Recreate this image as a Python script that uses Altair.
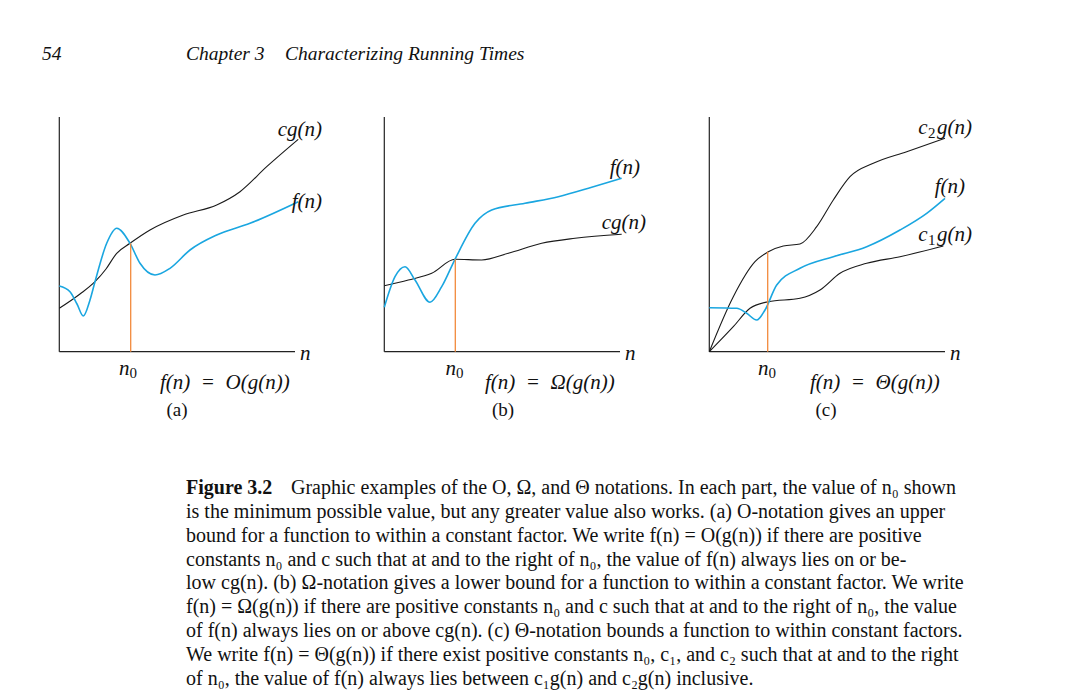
import altair as alt
import pandas as pd

W, H = 1067, 694
SERIF = "Liberation Serif"
BLUE = "#1aa6e0"
ORANGE = "#f28a3c"
SP = "\u2002"  # en space (not collapsed by SVG)

# ---------------- panel (a) ----------------
a_cg_x = [59.3, 80, 95, 106, 116.7, 130, 150, 183.3, 216.7, 240, 266.7, 298.3]
a_cg_y = [308.3, 294, 281.7, 269, 253.3, 243.3, 230, 215, 205, 191.7, 166.7, 139.3]
a_f_x = [59.3, 70, 77, 83.3, 90, 95, 106.7, 116.7, 130, 140, 155, 170, 190, 216.7, 250, 298.3]
a_f_y = [286, 291.7, 304, 316, 300, 281.7, 243.3, 228.3, 243.3, 263.3, 275, 268.3, 250, 235, 223.3, 201.7]
a_n0 = 130.7
a_n0_top = 243.3

# ---------------- panel (b) ----------------
b_cg_x = [384.3, 408.3, 431.7, 455, 481.7, 508.3, 541.7, 575, 621.7]
b_cg_y = [285.7, 280, 273.3, 259.3, 260, 253.3, 243.3, 238.3, 234.3]
b_f_x = [384.3, 395, 405, 415, 430, 441.7, 455, 475, 491.7, 525, 558.3, 591.7, 621.7]
b_f_y = [307.3, 276.7, 266.7, 280, 302.3, 286.7, 259.3, 223.3, 210, 203.3, 196.7, 187.3, 178.3]
b_n0 = 455.3
b_n0_top = 259.3

# ---------------- panel (c) ----------------
c_c2g_x = [709.3, 733.3, 755, 768.3, 783.3, 800, 816.7, 833.3, 850, 873.3, 906.7, 945]
c_c2g_y = [351.7, 296.7, 261.7, 251.7, 246, 244, 226.7, 200, 176.7, 163.3, 151.7, 138.3]
c_c1g_x = [709.3, 733.3, 750, 768.3, 800, 820, 840, 866.7, 900, 943.3]
c_c1g_y = [351.7, 326.7, 308.3, 301.7, 298.3, 290, 273.3, 263.3, 256.7, 246]
c_f_x = [709.3, 736.7, 746.7, 756.7, 765, 776.7, 800, 833.3, 866.7, 900, 926.7, 945]
c_f_y = [307.7, 308.3, 313.3, 320, 310, 285, 268.3, 256.7, 246.7, 230, 213.3, 198.3]
c_n0 = 767.7
c_n0_top = 251.7

# axes: (x_left, y_top, y_bottom, x_right)
axes_x0 = [59.3, 384.3, 709.3]
axes_top = [117, 117, 117]
axes_bottom = [351.7, 351.7, 351.7]
axes_x1 = [295, 620, 945]

# curve labels (right-aligned)
curve_labels = ["cg(n)", "f(n)", "f(n)", "cg(n)", "g(n)", "f(n)", "g(n)"]
curve_label_x = [322, 322, 640, 646, 972, 965, 972]
curve_label_y = [130, 202, 168, 223, 128, 187, 235]
# constants c1 / c2 of panel (c)
const_c = ["c", "c"]
const_c_x = [927.5, 927.5]
const_c_y = [128, 235]
const_sub = ["2", "1"]
const_sub_x = [928, 928]
const_sub_y = [133, 240]

n_label_x = [300, 625, 950]
n_label_y = [354, 354, 354]
n0_x = [129.5, 456, 768.5]
n0_y = [369, 369, 369]
n0_sub_y = [373, 373, 373]
formulas = [f"f(n){SP}={SP}O(g(n))", f"f(n){SP}={SP}Ω(g(n))", f"f(n){SP}={SP}Θ(g(n))"]
formula_x = [160, 485, 810]
formula_y = [383, 383, 383]
part_labels = ["(a)", "(b)", "(c)"]
part_x = [177, 503, 826]
part_y = [410, 410, 410]

header_italic = ["54", "Chapter 3", "Characterizing Running Times"]
header_x = [42, 186, 285]
header_y = [54, 54, 54]

caption_lines = [
    "Graphic examples of the O, Ω, and Θ notations. In each part, the value of n₀ shown",
    "is the minimum possible value, but any greater value also works.  (a) O-notation gives an upper",
    "bound for a function to within a constant factor.  We write  f(n) = O(g(n)) if there are positive",
    "constants n₀ and c such that at and to the right of n₀, the value of  f(n) always lies on or be-",
    "low cg(n). (b) Ω-notation gives a lower bound for a function to within a constant factor. We write",
    "f(n) = Ω(g(n)) if there are positive constants n₀ and c such that at and to the right of n₀, the value",
    "of f(n) always lies on or above cg(n). (c) Θ-notation bounds a function to within constant factors.",
    "We write f(n) = Θ(g(n)) if there exist positive constants n₀, c₁, and c₂ such that at and to the right",
    "of n₀, the value of f(n) always lies between c₁g(n) and c₂g(n) inclusive.",
]
caption_x = [291, 186, 186, 186, 186, 186, 186, 186, 186]
caption_y = [488, 512, 536, 560, 583, 607, 631, 655, 679]
caption_bold = ["Figure 3.2"]
caption_bold_x = [186]
caption_bold_y = [488]

# ---------------- build tables ----------------
def curve(name, xs, ys):
    return pd.DataFrame({"curve": name, "x": xs, "y": ys, "i": range(len(xs))})

black = pd.concat([
    curve("a_cg", a_cg_x, a_cg_y),
    curve("b_cg", b_cg_x, b_cg_y),
    curve("c_c2g", c_c2g_x, c_c2g_y),
    curve("c_c1g", c_c1g_x, c_c1g_y),
])
blue = pd.concat([
    curve("a_f", a_f_x, a_f_y),
    curve("b_f", b_f_x, b_f_y),
    curve("c_f", c_f_x, c_f_y),
])

xs = alt.Scale(domain=[0, W], nice=False, zero=False)
ys = alt.Scale(domain=[0, H], nice=False, zero=False, reverse=True)

def X(f="x"):
    return alt.X(f"{f}:Q", scale=xs, axis=None)

def Y(f="y"):
    return alt.Y(f"{f}:Q", scale=ys, axis=None)

black_lines = alt.Chart(black).mark_line(
    color="#1a1a1a", strokeWidth=1.1, interpolate="monotone"
).encode(x=X(), y=Y(), detail="curve:N", order="i:Q")

blue_lines = alt.Chart(blue).mark_line(
    color=BLUE, strokeWidth=1.6, interpolate="monotone"
).encode(x=X(), y=Y(), detail="curve:N", order="i:Q")

axes_df = pd.DataFrame({"x0": axes_x0, "top": axes_top, "bottom": axes_bottom, "x1": axes_x1})
v_axes = alt.Chart(axes_df).mark_rule(color="#222", strokeWidth=1.2).encode(
    x=X("x0"), y=Y("top"), y2="bottom:Q")
h_axes = alt.Chart(axes_df).mark_rule(color="#222", strokeWidth=1.2).encode(
    x=X("x0"), x2="x1:Q", y=Y("bottom"))

n0_df = pd.DataFrame({"x": [a_n0, b_n0, c_n0], "top": [a_n0_top, b_n0_top, c_n0_top],
                      "bottom": axes_bottom})
n0_rules = alt.Chart(n0_df).mark_rule(color=ORANGE, strokeWidth=1.3).encode(
    x=X("x"), y=Y("top"), y2="bottom:Q")

def text_layer(labels, tx, ty, align="left", size=17, style="normal", weight="normal"):
    df = pd.DataFrame({"t": labels, "x": tx, "y": ty})
    return alt.Chart(df).mark_text(
        align=align, baseline="middle", font=SERIF, fontSize=size,
        fontStyle=style, fontWeight=weight, color="#111"
    ).encode(x=X(), y=Y(), text="t:N")

layers = [
    v_axes, h_axes, black_lines, blue_lines, n0_rules,
    text_layer(curve_labels, curve_label_x, curve_label_y, align="right", size=21, style="italic"),
    text_layer(const_c, const_c_x, const_c_y, align="right", size=21, style="italic"),
    text_layer(const_sub, const_sub_x, const_sub_y, align="left", size=15),
    text_layer(["n"] * 3, n_label_x, n_label_y, size=21, style="italic"),
    text_layer(["n"] * 3, n0_x, n0_y, align="right", size=21, style="italic"),
    text_layer(["0"] * 3, n0_x, n0_sub_y, align="left", size=15),
    text_layer(formulas, formula_x, formula_y, size=21, style="italic"),
    text_layer(part_labels, part_x, part_y, align="center", size=19),
    text_layer(header_italic, header_x, header_y, size=19.5, style="italic"),
    text_layer(caption_lines, caption_x, caption_y, size=20),
    text_layer(caption_bold, caption_bold_x, caption_bold_y, size=20, weight="bold"),
]

chart = alt.layer(*layers).properties(
    width=W, height=H, padding=0,
    autosize=alt.AutoSizeParams(type="none"),
    background="white",
).configure_view(stroke=None)

chart.save("out.html", embed_options={"renderer": "svg", "actions": False})
